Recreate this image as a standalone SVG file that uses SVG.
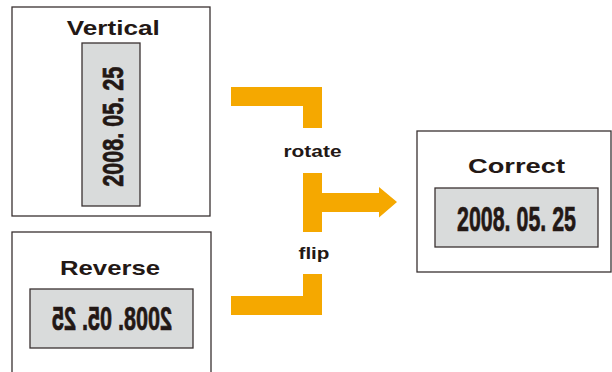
<svg xmlns="http://www.w3.org/2000/svg" width="612" height="372" viewBox="0 0 612 372">
  <style>
    .frame { fill: #ffffff; stroke: #3a3232; stroke-width: 1.3; }
    .plate { fill: #d9dbdb; stroke: #3a3232; stroke-width: 1.3; }
    .title { font-family: "Liberation Sans", Arial, sans-serif; font-weight: bold; font-size: 21px; fill: #231815; text-anchor: middle; }
    .date { font-family: "Liberation Sans", Arial, sans-serif; font-weight: bold; fill: #231815; stroke: #231815; stroke-width: 0.7; text-anchor: middle; }
    .label { font-family: "Liberation Sans", Arial, sans-serif; font-weight: bold; font-size: 17px; fill: #231815; text-anchor: middle; }
    .flow { fill: #f5a800; }
  </style>

  <!-- connectors: orange brackets merging into an arrow -->
  <g id="connectors">
    <polygon class="flow" points="231,87 322,87 322,128 303,128 303,106 231,106"/>
    <polygon class="flow" points="303,173 322,173 322,193 379,193 379,187 397,202 379,217.5 379,212 322,212 322,232 303,232"/>
    <polygon class="flow" points="303,274 322,274 322,315 231,315 231,296 303,296"/>
    <text class="label" x="312.5" y="157" textLength="58" lengthAdjust="spacingAndGlyphs">rotate</text>
    <text class="label" x="314" y="258.5" font-size="18" textLength="31" lengthAdjust="spacingAndGlyphs">flip</text>
  </g>

  <!-- vertical label -->
  <g id="vertical">
    <rect class="frame" x="12" y="7" width="198" height="209"/>
    <text class="title" x="113.3" y="35" textLength="93" lengthAdjust="spacingAndGlyphs">Vertical</text>
    <rect class="plate" x="82" y="43" width="58" height="163"/>
    <text class="date" font-size="30" transform="translate(122.5,126.7) rotate(-90)" x="0" y="0" textLength="120" lengthAdjust="spacingAndGlyphs">2008. 05. 25</text>
  </g>

  <!-- mirrored label -->
  <g id="reverse">
    <rect class="frame" x="12" y="232" width="199" height="160"/>
    <text class="title" x="110" y="274.5" textLength="100" lengthAdjust="spacingAndGlyphs">Reverse</text>
    <rect class="plate" x="30" y="289" width="163" height="59"/>
    <text class="date" font-size="32.5" transform="translate(112,330) scale(-1,1)" x="0" y="0" textLength="120" lengthAdjust="spacingAndGlyphs">2008. 05. 25</text>
  </g>

  <!-- corrected label -->
  <g id="correct">
    <rect class="frame" x="417" y="131" width="194" height="141"/>
    <text class="title" x="516.5" y="172.5" textLength="97" lengthAdjust="spacingAndGlyphs">Correct</text>
    <rect class="plate" x="435" y="188" width="163" height="59"/>
    <text class="date" font-size="35" x="516.5" y="231" textLength="119" lengthAdjust="spacingAndGlyphs">2008. 05. 25</text>
  </g>
</svg>
